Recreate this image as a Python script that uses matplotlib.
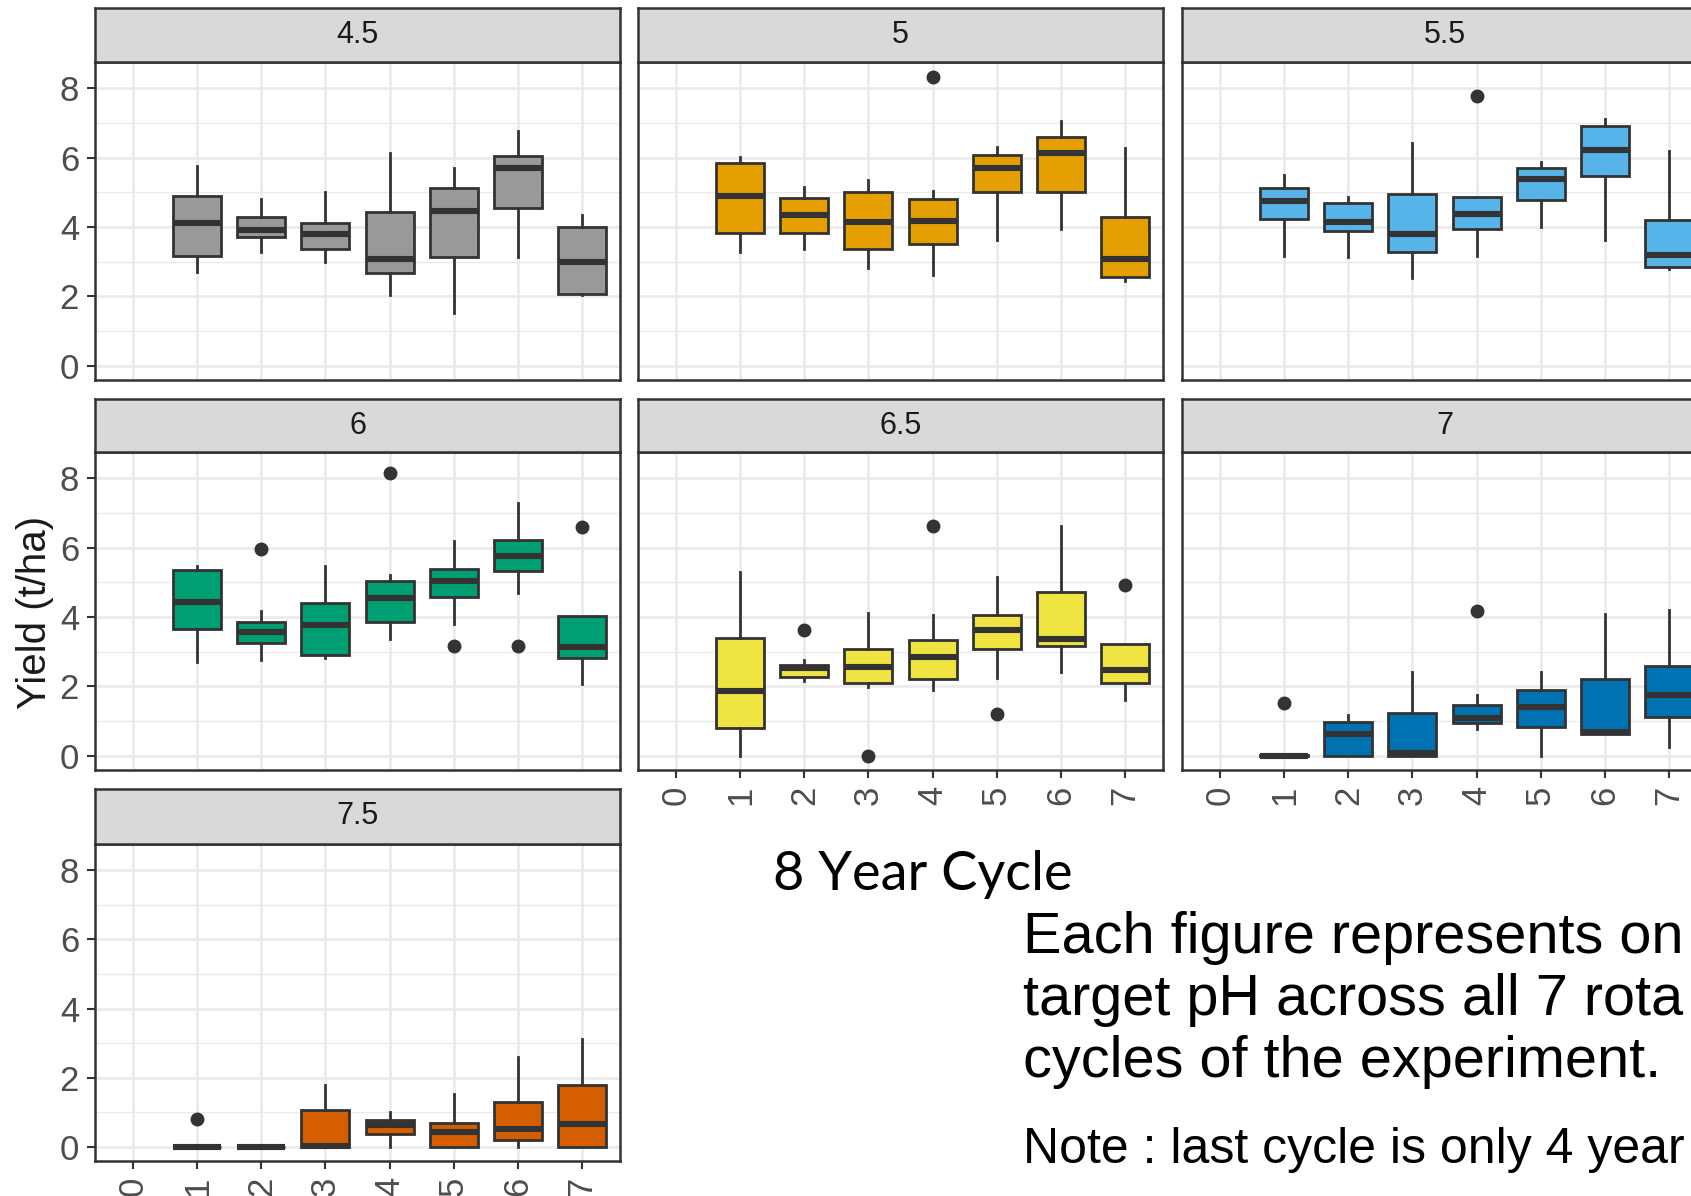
import matplotlib
matplotlib.use("Agg")
import matplotlib.pyplot as plt

# ---------------- data ----------------
ph_levels = ["4.5", "5", "5.5", "6", "6.5", "7", "7.5"]
box_colors = ["#999999", "#E69F00", "#56B4E9", "#009E73", "#F0E442", "#0072B2", "#D55E00"]
years = [1, 2, 3, 4, 5, 6, 7]
x_tick_labels = ["0", "1", "2", "3", "4", "5", "6", "7"]
y_ticks = [0, 2, 4, 6, 8]

# rows = pH level, columns = rotation cycle (year 1..7)
whisker_low = [
    [2.69, 3.27, 2.98, 2.05, 1.51, 3.13, 2.05],
    [3.29, 3.38, 2.81, 2.61, 3.63, 3.94, 2.44],
    [3.16, 3.14, 2.54, 3.18, 4.01, 3.63, 2.78],
    [2.70, 2.75, 2.83, 3.36, 3.81, 4.70, 2.06],
    [0.00, 2.17, 1.98, 1.91, 2.24, 2.41, 1.60],
    [0.00, 0.00, 0.00, 0.78, 0.00, 0.62, 0.26],
    [0.00, 0.00, 0.00, 0.00, 0.00, 0.00, 0.00],
]
quartile1 = [
    [3.17, 3.72, 3.36, 2.68, 3.13, 4.54, 2.07],
    [3.84, 3.84, 3.36, 3.50, 5.00, 5.02, 2.57],
    [4.23, 3.88, 3.28, 3.94, 4.78, 5.48, 2.86],
    [3.66, 3.26, 2.92, 3.87, 4.59, 5.33, 2.83],
    [0.81, 2.28, 2.11, 2.21, 3.07, 3.18, 2.11],
    [0.00, 0.00, 0.00, 0.95, 0.82, 0.62, 1.11],
    [0.00, 0.00, 0.00, 0.37, 0.00, 0.20, 0.00],
]
medians = [
    [4.12, 3.91, 3.81, 3.07, 4.45, 5.69, 2.98],
    [4.89, 4.35, 4.15, 4.17, 5.69, 6.15, 3.09],
    [4.76, 4.15, 3.81, 4.38, 5.38, 6.22, 3.19],
    [4.43, 3.58, 3.77, 4.54, 5.03, 5.77, 3.14],
    [1.87, 2.52, 2.57, 2.85, 3.62, 3.36, 2.47],
    [0.00, 0.63, 0.08, 1.08, 1.40, 0.70, 1.74],
    [0.00, 0.00, 0.01, 0.62, 0.42, 0.52, 0.66],
]
quartile3 = [
    [4.89, 4.29, 4.12, 4.43, 5.12, 6.05, 4.01],
    [5.85, 4.85, 5.02, 4.80, 6.09, 6.59, 4.28],
    [5.12, 4.70, 4.94, 4.88, 5.69, 6.91, 4.19],
    [5.35, 3.87, 4.41, 5.04, 5.39, 6.21, 4.03],
    [3.39, 2.62, 3.09, 3.33, 4.06, 4.72, 3.23],
    [0.02, 0.97, 1.24, 1.45, 1.91, 2.21, 2.60],
    [0.00, 0.00, 1.07, 0.78, 0.70, 1.31, 1.79],
]
whisker_high = [
    [5.77, 4.81, 5.01, 6.14, 5.69, 6.76, 4.34],
    [6.03, 5.16, 5.36, 5.05, 6.30, 7.05, 6.28],
    [5.50, 4.86, 6.43, 4.88, 5.87, 7.13, 6.19],
    [5.48, 4.17, 5.47, 5.21, 6.19, 7.30, 4.03],
    [5.31, 2.76, 4.12, 4.06, 5.15, 6.63, 3.23],
    [0.02, 1.18, 2.41, 1.74, 2.41, 4.08, 4.20],
    [0.00, 0.00, 1.79, 1.00, 1.53, 2.61, 3.11],
]
outliers = [
    [[], [], [], [], [], [], []],
    [[], [], [], [8.32], [], [], []],
    [[], [], [], [7.77], [], [], []],
    [[], [5.95], [], [8.15], [3.16], [3.18], [6.60]],
    [[], [3.64], [0.0], [6.64], [1.21], [], [4.92]],
    [[1.51], [], [], [4.17], [], [], []],
    [[0.80], [], [], [], [], [], []],
]

# ---------------- layout (pixels) ----------------
W, H = 1691, 1196
fig = plt.figure(figsize=(W / 100, H / 100), dpi=100)
fig.patch.set_facecolor("white")

col_left = [95, 638, 1182]
panel_w = 525
row_strip_top = [7.5, 399, 789]
row_strip_bot = [62, 452, 844]
row_plot_bot = [380, 770, 1161]

dark = "#333333"
grid_col = "#EBEBEB"
tick_font = "Liberation Sans"

panel_pos = [(0, 0), (0, 1), (0, 2), (1, 0), (1, 1), (1, 2), (2, 0)]
show_x = {(1, 1), (1, 2), (2, 0)}

for i, (r, c) in enumerate(panel_pos):
    left = col_left[c] / W
    ax = fig.add_axes([left, 1 - row_plot_bot[r] / H, panel_w / W,
                       (row_plot_bot[r] - row_strip_bot[r]) / H])
    stats = []
    for j, yr in enumerate(years):
        stats.append(dict(med=medians[i][j], q1=quartile1[i][j], q3=quartile3[i][j],
                          whislo=whisker_low[i][j], whishi=whisker_high[i][j],
                          fliers=outliers[i][j], label=str(yr)))
    ax.bxp(stats, positions=years, widths=0.75, patch_artist=True, showcaps=False,
           boxprops=dict(facecolor=box_colors[i], edgecolor=dark, linewidth=2.0),
           whiskerprops=dict(color=dark, linewidth=2.0),
           medianprops=dict(color=dark, linewidth=4.4, solid_capstyle="butt"),
           flierprops=dict(marker="o", markerfacecolor=dark, markeredgecolor=dark,
                           markersize=9, linestyle="none"),
           manage_ticks=False, zorder=3)
    ax.set_xlim(-0.6, 7.6)
    ax.set_ylim(-0.41, 8.76)
    ax.set_xticks(range(len(x_tick_labels)))
    ax.set_xticklabels(x_tick_labels, rotation=90, fontsize=25, family=tick_font,
                       color="#4D4D4D")
    ax.set_yticks(y_ticks)
    ax.set_yticklabels([str(v) for v in y_ticks], fontsize=25, family=tick_font,
                       color="#4D4D4D")
    ax.set_yticks([1, 3, 5, 7], minor=True)
    ax.set_axisbelow(True)
    ax.grid(True, which="major", color=grid_col, linewidth=1.9)
    ax.grid(True, which="minor", axis="y", color=grid_col, linewidth=1.0)
    ax.tick_params(axis="both", which="major", length=6, width=1.5, color=dark, pad=5.5)
    ax.tick_params(axis="both", which="minor", length=0)
    ax.tick_params(axis="x", bottom=(r, c) in show_x, labelbottom=(r, c) in show_x)
    ax.tick_params(axis="y", left=(c == 0), labelleft=(c == 0))
    for sp in ax.spines.values():
        sp.set_color(dark)
        sp.set_linewidth(1.8)

    # facet strip
    sax = fig.add_axes([left, 1 - row_strip_bot[r] / H, panel_w / W,
                        (row_strip_bot[r] - row_strip_top[r]) / H])
    sax.set_facecolor("#D9D9D9")
    sax.set_xticks([])
    sax.set_yticks([])
    for sp in sax.spines.values():
        sp.set_color(dark)
        sp.set_linewidth(1.8)
    sax.text(0.5, 0.5, ph_levels[i], ha="center", va="center", fontsize=22,
             family=tick_font, color="#1A1A1A", transform=sax.transAxes)

# axis title
fig.text(35 / W, 1 - 612 / H, "Yield (t/ha)", rotation=90, ha="center", va="center",
         fontsize=29, family=tick_font, color="#1A1A1A")

# slide annotations
fig.text(773 / W, 1 - 890 / H, "8 Year Cycle", ha="left", va="baseline",
         fontsize=39, family="Lato", color="black")
para = ["Each figure represents on", "target pH across all 7 rota",
        "cycles of the experiment."]
for k, line in enumerate(para):
    fig.text(1023 / W, 1 - (953 + 62 * k) / H, line, ha="left", va="baseline",
             fontsize=41.5, family=tick_font, color="black")
fig.text(1023 / W, 1 - 1163 / H, "Note : last cycle is only 4 year", ha="left",
         va="baseline", fontsize=36, family=tick_font, color="black")

fig.savefig("out.png", dpi=100)
